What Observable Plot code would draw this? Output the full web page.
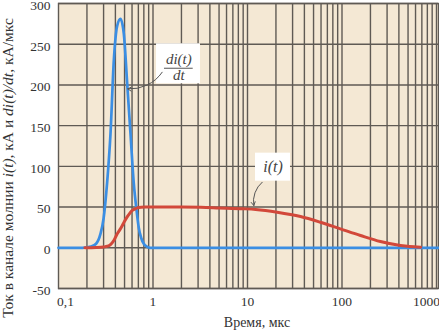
<!DOCTYPE html>
<html><head><meta charset="utf-8">
<script src="https://cdn.jsdelivr.net/npm/d3@7"></script>
<script src="https://cdn.jsdelivr.net/npm/@observablehq/plot@0.6"></script>
<style>
body{margin:0;background:#fff;}
#chart svg{display:block;}
#chart svg text{font-family:'Liberation Serif','Times New Roman',serif;}
</style></head><body><div id="chart"></div>
<script>
// di(t)/dt, кА/мкс
const diTime   = [0.1, 0.18, 0.2, 0.22, 0.25, 0.278, 0.3, 0.327, 0.355, 0.385, 0.417, 0.453, 0.491, 0.533, 0.578, 0.626, 0.67, 0.706, 0.75, 0.799, 0.86, 0.94, 1.2, 1050];
const diValues = [0,   0,    0.5, 1.5,  5,    17,    36,  80,    140,   230,   272,   281,   263,   202,   140,   79,    46,   25,    12,   5,     1.5,  0,    0,   0];
// i(t), кА
const iTime   = [0.19, 0.25, 0.3, 0.33, 0.355, 0.385, 0.417, 0.445, 0.472, 0.5, 0.533, 0.565, 0.6, 0.64, 0.68, 0.75, 0.85, 1, 2, 3.2, 5, 9.1, 12.2, 20.6, 36.4, 59, 96, 157, 255, 416, 520, 680];
const iValues = [0,    0.3,  1,   2,    4,     9,     17,    22,    27,    32.5, 38,  42,    45.5, 47.5, 49,  49.8, 50,   50.2, 50, 49.8, 49, 47.9, 47, 43.7, 38.4, 31.4, 23.3, 15.1, 7.7, 2.8, 1.5, 0.7];

const xTickValues = [0.1, 1, 10, 100, 1000];
const xTickLabels = ["0,1", "1", "10", "100", "1000"];
const yTickValues = [-50, 0, 50, 100, 150, 200, 250, 300];
const gridX = [0.2,0.3,0.4,0.5,0.6,0.7,0.8,0.9, 1,2,3,4,5,6,7,8,9, 10,20,30,40,50,60,70,80,90, 100,200,300,400,500,600,700,800,900, 1000];

const xTitle = "Время, мкс";
const yTitleParts = [["Ток в канале молнии ", false], ["i(t)", true], [", кА и ", false], ["di(t)/dt", true], [", кА/мкс", false]];

// annotations (data coordinates)
const labelBoxes = [
  {x1: 1.09, x2: 3.18, y1: 201.4, y2: 250.5},
  {x1: 12.15, x2: 28.5, y1: 81.8, y2: 116.2}
];
const diLabelTop = {x: 1.875, y: 231, text: "di(t)"};
const diLabelBottom = {x: 1.875, y: 211.6, text: "dt"};
const diFractionBar = {x1: 1.323, x2: 2.664, y: 220.5};
const iLabel = {x: 18.6, y: 99.8, text: "i(t)"};
const diArrow = {x1: 1.251, y1: 215.6, x2: 0.541, y2: 195.2};
const iArrow = {x1: 14.3, y1: 80.5, x2: 11.66, y2: 51.9};

const blue = "#3b8ee3";
const red = "#d2483a";
const gridColor = "#5f5a54";
const bg = "#f4e8d4";
const serif = "Liberation Serif";

const diData = diTime.map((t, i) => ({t, v: diValues[i]}));
const iData = iTime.map((t, i) => ({t, v: iValues[i]}));
const xFmt = d => xTickLabels[xTickValues.indexOf(d)];
const axisText = {fontFamily: serif, fontSize: 13.5, fill: "#333"};

const plot = Plot.plot({
  width: 439, height: 330,
  marginLeft: 58, marginRight: 1, marginTop: 3, marginBottom: 42,
  x: {type: "log", domain: [0.1, 1050]},
  y: {domain: [-50, 300]},
  style: {fontFamily: serif, fontSize: "13.5px", color: "#333", background: "transparent"},
  marks: [
    Plot.frame({fill: bg}),
    Plot.ruleX(gridX, {stroke: gridColor, strokeWidth: 1.4}),
    Plot.ruleY(yTickValues, {stroke: gridColor, strokeWidth: 1.4}),
    Plot.frame({stroke: gridColor, strokeWidth: 1.4}),
    Plot.line(diData, {x: "t", y: "v", stroke: blue, strokeWidth: 2.7, curve: "monotone-x"}),
    Plot.line(iData, {x: "t", y: "v", stroke: red, strokeWidth: 3, curve: "monotone-x"}),
    Plot.rect(labelBoxes, {x1: "x1", x2: "x2", y1: "y1", y2: "y2", fill: "white"}),
    Plot.text([diLabelTop, diLabelBottom], {x: "x", y: "y", text: "text", fontStyle: "italic", fontFamily: serif, fontSize: 15, fill: "#444"}),
    Plot.ruleY([diFractionBar], {x1: "x1", x2: "x2", y: "y", stroke: "#555", strokeWidth: 1}),
    Plot.text([iLabel], {x: "x", y: "y", text: "text", fontStyle: "italic", fontFamily: serif, fontSize: 16, fill: "#444"}),
    Plot.arrow([diArrow], {x1: "x1", y1: "y1", x2: "x2", y2: "y2", bend: 30, stroke: "#555", strokeWidth: 1, headLength: 6}),
    Plot.arrow([iArrow], {x1: "x1", y1: "y1", x2: "x2", y2: "y2", bend: -30, stroke: "#555", strokeWidth: 1, headLength: 6}),
    Plot.axisX(xTickValues.slice(0, 1), {tickSize: 0, tickPadding: 8, tickFormat: xFmt, label: null, dx: 7, ...axisText}),
    Plot.axisX(xTickValues.slice(1, 4), {tickSize: 0, tickPadding: 8, tickFormat: xFmt, label: null, ...axisText}),
    Plot.axisX(xTickValues.slice(4), {tickSize: 0, tickPadding: 8, tickFormat: xFmt, label: null, dx: -10, ...axisText}),
    Plot.axisY(yTickValues, {tickSize: 0, tickPadding: 8, tickFormat: d => String(d), label: null, dy: 2, ...axisText})
  ]
});

const svg = d3.select(plot);
svg.append("text")
  .attr("x", 257).attr("y", 327)
  .attr("text-anchor", "middle")
  .attr("fill", "#333")
  .style("font-family", serif).style("font-size", "14px")
  .text(xTitle);
const yt = svg.append("text")
  .attr("transform", "translate(13,168) rotate(-90)")
  .attr("text-anchor", "middle")
  .attr("fill", "#333")
  .style("font-family", serif).style("font-size", "15.5px");
for (const [txt, it] of yTitleParts) {
  const ts = yt.append("tspan").text(txt);
  if (it) ts.attr("font-style", "italic");
}
document.getElementById("chart").appendChild(plot);
</script>
</body></html>
